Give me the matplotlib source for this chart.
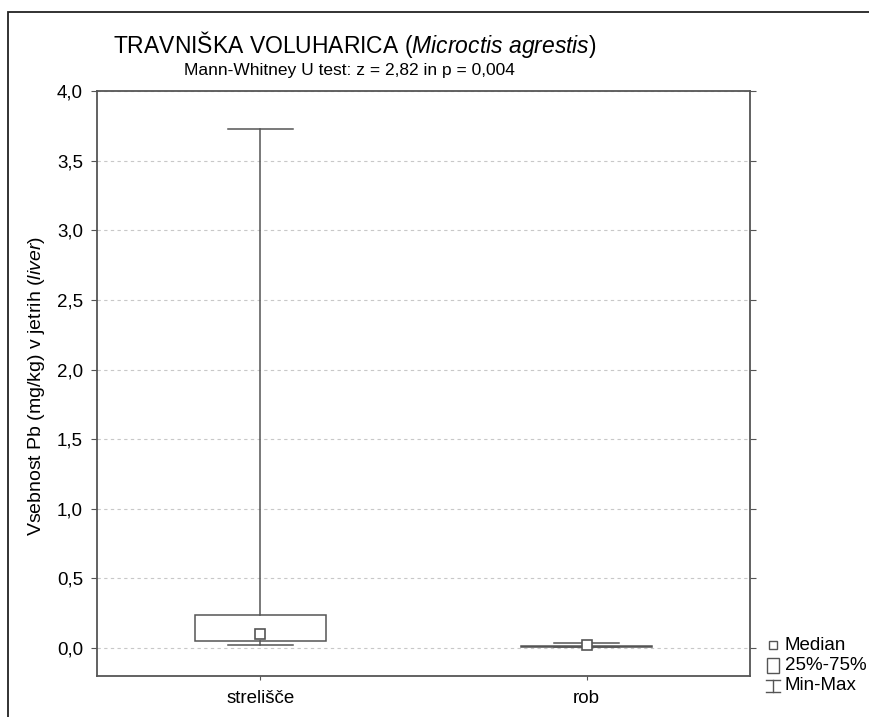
import matplotlib
matplotlib.use("Agg")
import matplotlib.pyplot as plt
from matplotlib.patches import Rectangle
from matplotlib.lines import Line2D

plt.rcParams['font.family'] = ['Liberation Sans', 'DejaVu Sans']
plt.rcParams['mathtext.fontset'] = 'custom'
plt.rcParams['mathtext.rm'] = 'Liberation Sans'
plt.rcParams['mathtext.it'] = 'Liberation Sans:italic'

# data (mg/kg Pb in liver)
groups = ['strelišče', 'rob']
minimum = [0.02, 0.005]
q1 = [0.05, 0.008]
median = [0.10, 0.025]
q3 = [0.235, 0.018]
maximum = [3.73, 0.04]

yticks = [0.0, 0.5, 1.0, 1.5, 2.0, 2.5, 3.0, 3.5, 4.0]
ytick_labels = ['0,0', '0,5', '1,0', '1,5', '2,0', '2,5', '3,0', '3,5', '4,0']

lc = '#555555'

fig = plt.figure(figsize=(8.7, 7.17), dpi=100)
ax = fig.add_axes([0.1115, 0.0572, 0.7505, 0.8158])

stats = []
for i in range(len(groups)):
    stats.append(dict(label=groups[i], med=median[i], q1=q1[i], q3=q3[i],
                      whislo=minimum[i], whishi=maximum[i], fliers=[]))

pos = list(range(len(groups)))
ax.bxp(stats, positions=pos, widths=0.4, patch_artist=True,
       boxprops=dict(facecolor='white', edgecolor=lc, linewidth=1.1),
       whiskerprops=dict(color=lc, linewidth=1.1),
       capprops=dict(color=lc, linewidth=1.1),
       medianprops=dict(linestyle='none'))
ax.plot(pos, median, 's', ms=7, mfc='white', mec=lc, mew=1.2, zorder=5)

ax.set_xlim(-0.5, 1.5)
ax.set_ylim(-0.2, 4.0)
ax.set_yticks(yticks)
ax.set_yticklabels(ytick_labels, fontsize=13.5)
ax.set_xticks(pos)
ax.set_xticklabels(groups, fontsize=13.5)
ax.tick_params(axis='y', direction='out', length=4, right=True, color=lc, pad=6)
ax.tick_params(axis='x', direction='out', length=3, color=lc, pad=7)
ax.yaxis.grid(True, color='#c8c8c8', linestyle=(0, (3, 3)), linewidth=0.8)
ax.set_axisbelow(True)
for s in ax.spines.values():
    s.set_color(lc)
    s.set_linewidth(1.3)

ax.set_ylabel('Vsebnost Pb (mg/kg) v jetrih ($\\it{liver}$)', fontsize=14)
ax.yaxis.set_label_coords(-0.077, 0.496)

fig.text(355 / 870, 1 - 45 / 717, 'TRAVNIŠKA VOLUHARICA ($\\it{Microctis\\ agrestis}$)',
         ha='center', va='center', fontsize=16.5)
fig.text(349 / 870, 1 - 71 / 717, 'Mann-Whitney U test: z = 2,82 in p = 0,004',
         ha='center', va='center', fontsize=12.5)

# legend drawn by hand to the right of the plot
lx = 773 / 870
fig.add_artist(Line2D([lx], [1 - 645 / 717], marker='s', ms=6, mfc='white',
                      mec=lc, mew=1, transform=fig.transFigure))
fig.add_artist(Rectangle((lx - 6 / 870, 1 - 673 / 717), 12 / 870, 15 / 717,
                         facecolor='white', edgecolor=lc, lw=1, transform=fig.transFigure))
fig.add_artist(Line2D([lx, lx], [1 - 680 / 717, 1 - 692 / 717], color=lc, lw=1,
                      transform=fig.transFigure))
fig.add_artist(Line2D([lx - 7 / 870, lx + 7 / 870], [1 - 680 / 717] * 2, color=lc, lw=1,
                      transform=fig.transFigure))
fig.add_artist(Line2D([lx - 7 / 870, lx + 7 / 870], [1 - 692 / 717] * 2, color=lc, lw=1,
                      transform=fig.transFigure))
for txt, yy in zip(['Median', '25%-75%', 'Min-Max'], [645, 665, 685]):
    fig.text(785 / 870, 1 - yy / 717, txt, ha='left', va='center', fontsize=13.5)

# outer frame
fig.add_artist(Rectangle((8 / 870, -0.05), 1.2, 1 - 12 / 717 + 0.05, fill=False,
                         edgecolor='#222222', lw=1.3, transform=fig.transFigure))

fig.savefig('out.png', dpi=100)
